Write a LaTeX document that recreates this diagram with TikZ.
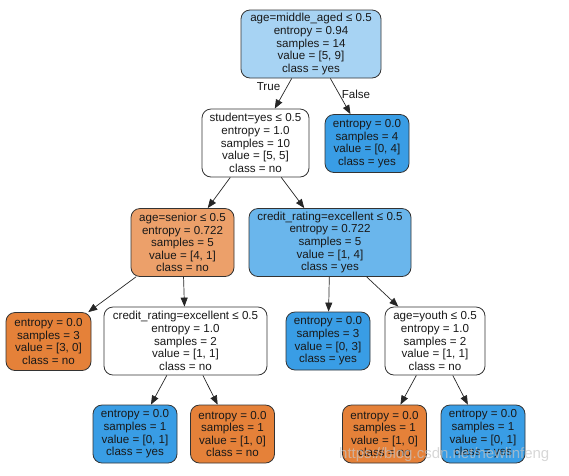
\documentclass[tikz,border=0pt]{standalone}
\usepackage{fontspec}
\setmainfont{Liberation Sans}
\usetikzlibrary{arrows.meta}
\definecolor{rootblue}{HTML}{A7D3F3}
\definecolor{midblue}{HTML}{6AB6EC}
\definecolor{leafblue}{HTML}{399DE5}
\definecolor{midorange}{HTML}{ECA06A}
\definecolor{leaforange}{HTML}{E58139}
\tikzset{
  tbox/.style={draw=black!80, line width=0.8pt, rounded corners=9pt, inner sep=0pt,
    align=center, font=\fontsize{11.6}{12.6}\selectfont, text=black!90},
  bigbox/.style={tbox, minimum height=68pt},
  leafbox/.style={tbox, minimum width=84pt, minimum height=58pt},
  edge/.style={draw=black!85, line width=0.7pt, -{Triangle[length=9pt,width=7pt]}},
  elabel/.style={font=\fontsize{11.6}{12}\selectfont, inner sep=0pt, text=black!90}
}
\begin{document}
\begin{tikzpicture}[x=1pt,y=-1pt]
\useasboundingbox (0,0) rectangle (569,475);
% level 1
\node[bigbox, fill=rootblue, minimum width=140pt] (root) at (311,44)
  {age=middle\_aged ≤ 0.5\\entropy = 0.94\\samples = 14\\value = [5, 9]\\class = yes};
% level 2
\node[bigbox, fill=white, minimum width=107pt] (student) at (255.5,143)
  {student=yes ≤ 0.5\\entropy = 1.0\\samples = 10\\value = [5, 5]\\class = no};
\node[leafbox, fill=leafblue] (leafA) at (367,143.5)
  {entropy = 0.0\\samples = 4\\value = [0, 4]\\class = yes};
% level 3
\node[bigbox, fill=midorange, minimum width=103pt] (senior) at (182.5,242.5)
  {age=senior ≤ 0.5\\entropy = 0.722\\samples = 5\\value = [4, 1]\\class = no};
\node[bigbox, fill=midblue, minimum width=162pt] (credA) at (330,242.5)
  {credit\_rating=excellent ≤ 0.5\\entropy = 0.722\\samples = 5\\value = [1, 4]\\class = yes};
% level 4
\node[leafbox, fill=leaforange, minimum width=85pt] (leafB) at (48.5,341.5)
  {entropy = 0.0\\samples = 3\\value = [3, 0]\\class = no};
\node[bigbox, fill=white, minimum width=163pt] (credB) at (185.5,341)
  {credit\_rating=excellent ≤ 0.5\\entropy = 1.0\\samples = 2\\value = [1, 1]\\class = no};
\node[leafbox, fill=leafblue] (leafC) at (328,341)
  {entropy = 0.0\\samples = 3\\value = [0, 3]\\class = yes};
\node[bigbox, fill=white, minimum width=100pt] (youth) at (435,341)
  {age=youth ≤ 0.5\\entropy = 1.0\\samples = 2\\value = [1, 1]\\class = no};
% level 5
\node[leafbox, fill=leafblue] (leafD) at (135,434)
  {entropy = 0.0\\samples = 1\\value = [0, 1]\\class = yes};
\node[leafbox, fill=leaforange] (leafE) at (232.5,434)
  {entropy = 0.0\\samples = 1\\value = [1, 0]\\class = no};
\node[leafbox, fill=leaforange] (leafF) at (384.5,434)
  {entropy = 0.0\\samples = 1\\value = [1, 0]\\class = no};
\node[leafbox, fill=leafblue] (leafG) at (483,434)
  {entropy = 0.0\\samples = 1\\value = [0, 1]\\class = yes};
% edges
\draw[edge] (root) -- (student);
\draw[edge] (root) -- (leafA);
\draw[edge] (student) -- (senior);
\draw[edge] (student) -- (credA);
\draw[edge] (senior) -- (leafB);
\draw[edge] (senior) -- (credB);
\draw[edge] (credA) -- (leafC);
\draw[edge] (credA) -- (youth);
\draw[edge] (credB) -- (leafD);
\draw[edge] (credB) -- (leafE);
\draw[edge] (youth) -- (leafF);
\draw[edge] (youth) -- (leafG);
% edge labels
\node[elabel] (lt) at (268.5,87) {True};
\node[elabel] (lf) at (356,94) {False};
% watermark
\node[font=\fontsize{15}{16}\selectfont, text=gray!45, opacity=0.7, inner sep=0pt, anchor=west] (wm) at (339,455) {https://blog.csdn.net/newlinfeng};
\end{tikzpicture}
\end{document}
